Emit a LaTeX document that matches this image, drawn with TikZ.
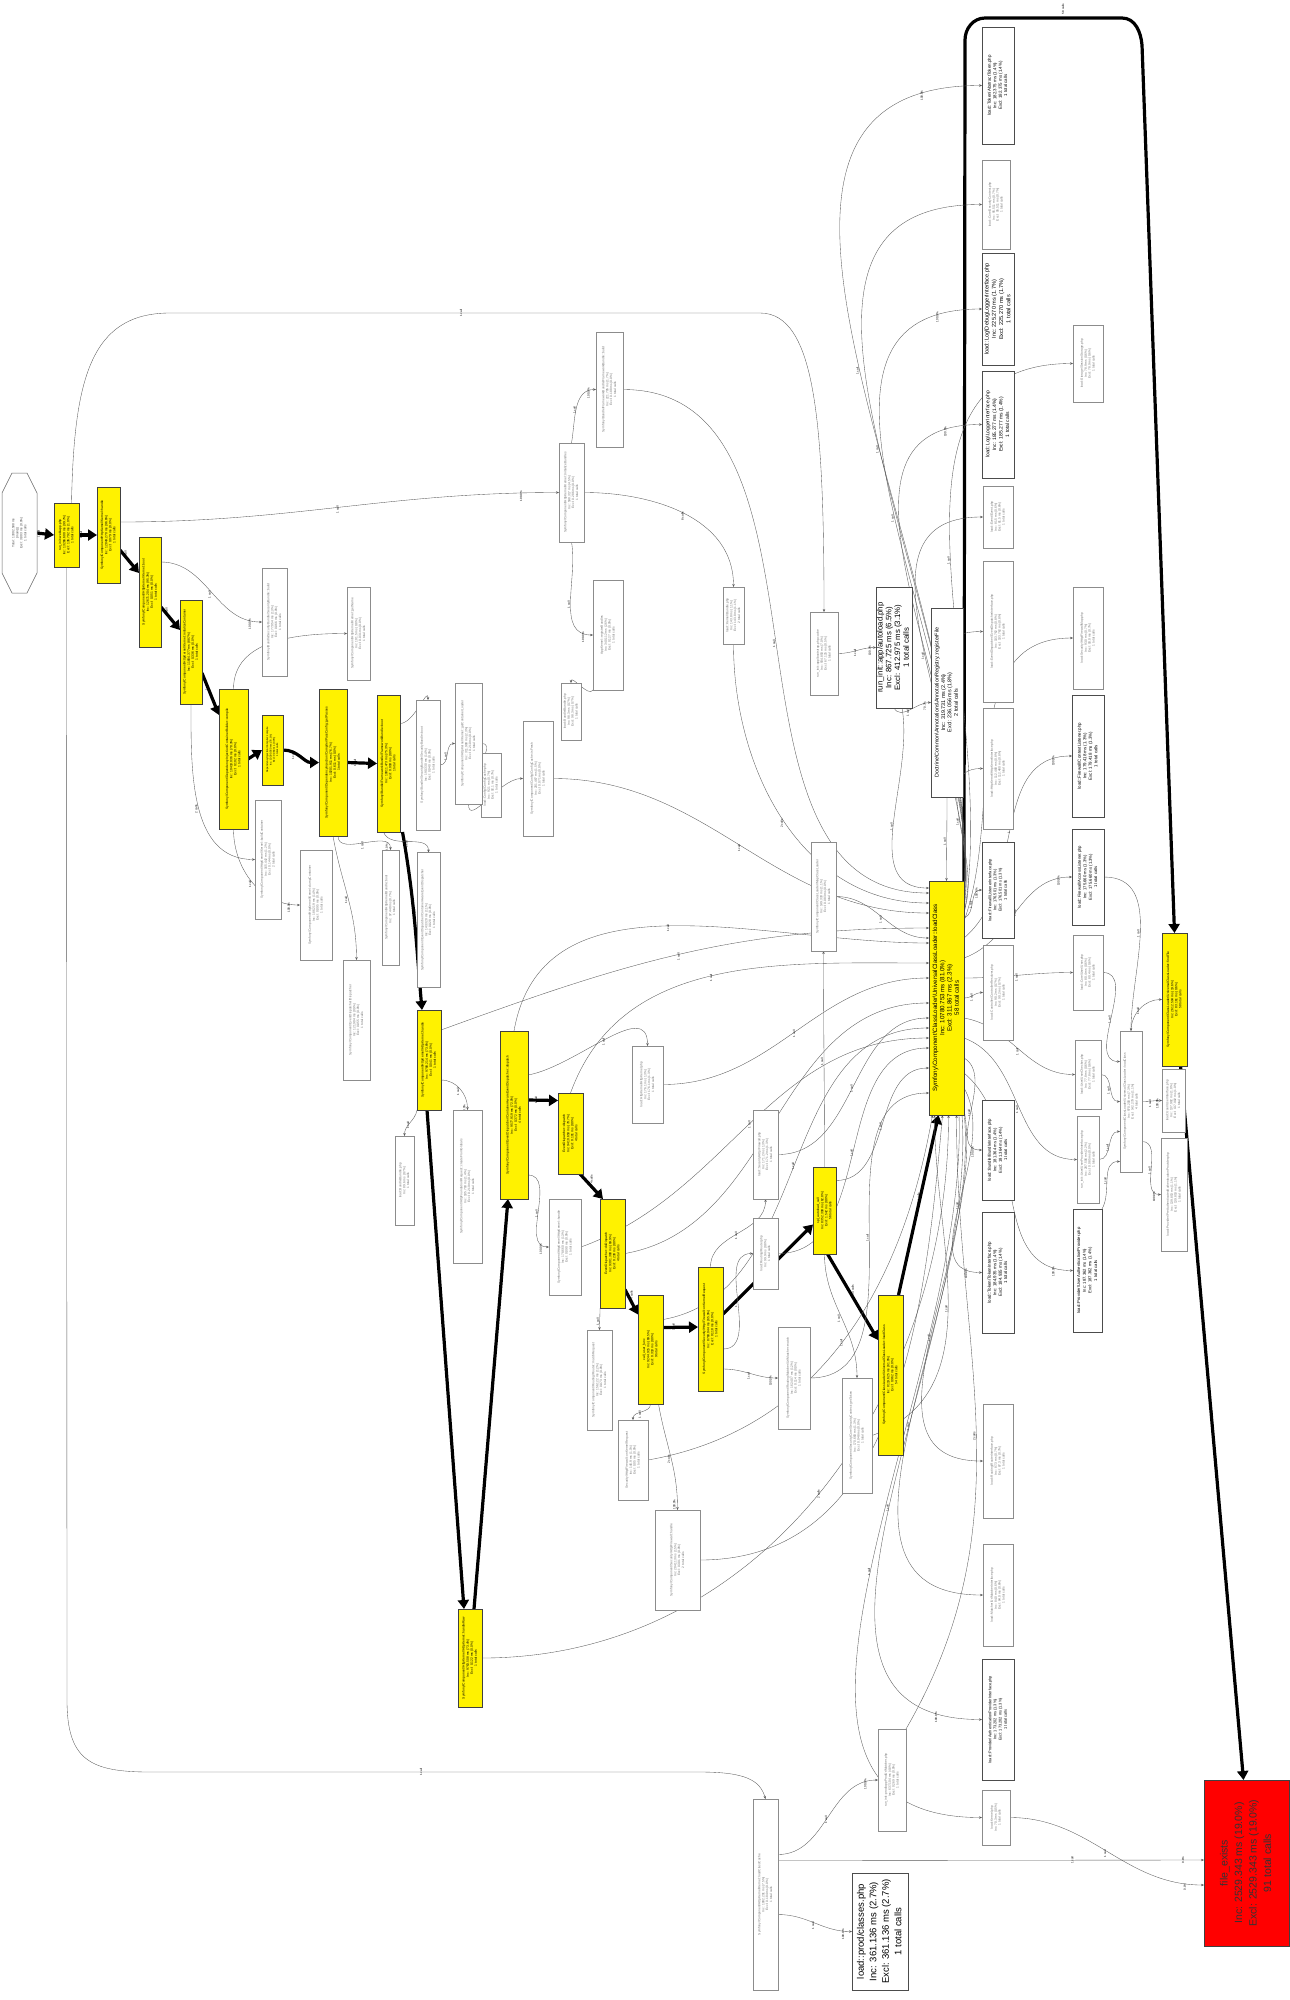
\documentclass[tikz,border=0pt]{standalone}
\usepackage{fontspec}
\setmainfont{Liberation Sans}
\usepackage{graphicx}
\usetikzlibrary{arrows.meta}
\pgfdeclarelayer{bg}
\pgfsetlayers{bg,main}
\newcommand{\rt}[1]{\rotatebox{90}{\begin{tabular}{@{}c@{}}#1\end{tabular}}}
\newcommand{\bsl}{\textbackslash}
\newcommand{\ed}[5]{\draw[te] (#1) to[out=#3,in=#4] node[lb,midway,xshift=-2.5pt,yshift=2pt]{#5} (#2);}
\newcommand{\edp}[6]{\draw[te] (#1) to[out=#3,in=#4] node[lb,midway,xshift=-2.5pt,yshift=2pt]{#5} node[lb,pos=0.93,xshift=-3pt,yshift=3pt]{#6} (#2);}
\tikzset{
  bx/.style={rectangle, inner sep=0pt, outer sep=0pt},
  yb/.style={bx, draw=black!75, fill=yellow, line width=0.6pt, font=\fontsize{3.3}{4.1}\selectfont},
  wb/.style={bx, draw=black!45, fill=white, line width=0.5pt, text=black!55, font=\fontsize{3.2}{3.9}\selectfont},
  wk/.style={bx, draw=black!70, fill=white, line width=0.6pt, text=black, font=\fontsize{4.6}{5.6}\selectfont},
  sz/.style 2 args={minimum width=#1pt, minimum height=#2pt},
  te/.style={draw=black!65, line width=0.35pt, -{Stealth[length=3pt,width=2.4pt]}},
  tk/.style={draw=black, line width=3.2pt, -{Triangle[length=9pt,width=11pt]}},
  lb/.style={font=\fontsize{3}{3.4}\selectfont, rotate=90, inner sep=0.3pt, text=black},
}
\begin{document}
\begin{tikzpicture}[x=1pt,y=-1pt]
\useasboundingbox (0,0) rectangle (1290,2000);
\begin{pgfonlayer}{bg}
\fill[white] (0,0) rectangle (1290,2000);
\end{pgfonlayer}

% ---------- start node ----------
\draw[black!60, line width=0.5pt, fill=white] (12,473) -- (27,473) -- (37,493) -- (37,573) -- (27,593) -- (12,593) -- (2,573) -- (2,493) -- cycle;
\node[bx, sz={35}{120}, text=black!70, font=\fontsize{3.2}{4}\selectfont] (S) at (19.5,533) {\rt{Total: 13302.508 ms\\\{main\}()\\Excl: 3.803 ms (0.0\%)\\1 total calls}};

% ---------- yellow chain ----------
\node[yb, sz={25}{64}] (Y1) at (66.5,535) {\rt{run\_init::web/app.php\\Inc: 13266.600 ms (99.7\%)\\Excl: 136.792 ms (1.0\%)\\1 total calls}};
\node[yb, sz={23}{96}] (Y2) at (108.5,535) {\rt{Symfony\bsl Component\bsl HttpKernel\bsl Kernel::handle\\Inc: 12849.270 ms (96.6\%)\\Excl: 0.079 ms (0.0\%)\\1 total calls}};
\node[yb, sz={22}{110}] (Y3) at (150,592) {\rt{Symfony\bsl Component\bsl HttpKernel\bsl Kernel::boot\\Inc: 12671.204 ms (95.3\%)\\Excl: 0.051 ms (0.0\%)\\1 total calls}};
\node[yb, sz={22}{104}] (Y4) at (191,652) {\rt{Symfony\bsl Component\bsl HttpKernel\bsl Kernel::initializeContainer\\Inc: 11804.377 ms (88.7\%)\\Excl: 0.336 ms (0.0\%)\\1 total calls}};
\node[yb, sz={29}{140}] (Y5) at (233.5,759) {\rt{Symfony\bsl Component\bsl DependencyInjection\bsl ContainerBuilder::compile\\Inc: 10418.036 ms (78.3\%)\\Excl: 0.102 ms (0.0\%)\\1 total calls}};
\node[yb, sz={21}{70}, font=\fontsize{2.6}{3.3}\selectfont] (Y5b) at (272.5,750) {\rt{DependencyInjection\bsl Compiler::compile\\Inc: 10390.560 ms (78.1\%)\\Excl: 0.084 ms (0.0\%)\\1 total calls}};
\node[yb, sz={28}{147}] (Y6) at (333,762.5) {\rt{Symfony\bsl Component\bsl DependencyInjection\bsl Compiler\bsl PassConfig::getPasses\\Inc: 10201.911 ms (76.7\%)\\Excl: 0.611 ms (0.0\%)\\1 total calls}};
\node[yb, sz={23}{137}] (Y7) at (388.5,763.5) {\rt{Symfony\bsl Bundle\bsl FrameworkBundle\bsl FrameworkBundle::boot\\Inc: 10011.473 ms (75.3\%)\\Excl: 0.093 ms (0.0\%)\\1 total calls}};
\node[yb, sz={24}{100}] (Y8) at (429,1060) {\rt{Symfony\bsl Component\bsl HttpKernel\bsl HttpKernel::handle\\Inc: 9788.214 ms (73.6\%)\\Excl: 0.041 ms (0.0\%)\\1 total calls}};
\node[yb, sz={24}{98}] (YB) at (470,1658) {\rt{Symfony\bsl Component\bsl HttpKernel\bsl HttpKernel::handleRaw\\Inc: 9763.508 ms (73.4\%)\\Excl: 0.122 ms (0.0\%)\\1 total calls}};
\node[yb, sz={28}{168}] (Y9) at (514,1115) {\rt{Symfony\bsl Component\bsl EventDispatcher\bsl ContainerAwareEventDispatcher::dispatch\\Inc: 9577.919 ms (72.0\%)\\Excl: 0.372 ms (0.0\%)\\4 total calls}};
\node[yb, sz={25}{81}] (Y10) at (570.5,1133.5) {\rt{EventDispatcher::dispatch\\Inc: 9410.650 ms (70.7\%)\\Excl: 0.101 ms (0.0\%)\\4 total calls}};
\node[yb, sz={25}{109}] (Y11) at (612.5,1253.5) {\rt{EventDispatcher::doDispatch\\Inc: 9301.388 ms (69.9\%)\\Excl: 0.230 ms (0.0\%)\\4 total calls}};
\node[yb, sz={25}{109}] (Y12) at (650.5,1349.5) {\rt{call\_user\_func\\Inc: 9244.915 ms (69.5\%)\\Excl: 0.318 ms (0.0\%)\\9 total calls}};
\node[yb, sz={25}{124}] (Y13) at (710.5,1329) {\rt{Symfony\bsl Component\bsl Security\bsl Http\bsl Firewall::onKernelRequest\\Inc: 8760.044 ms (65.9\%)\\Excl: 0.118 ms (0.0\%)\\1 total calls}};
\node[yb, sz={23}{87}] (Y14) at (824.5,1210.5) {\rt{spl\_autoload\_call\\Inc: 8352.390 ms (62.8\%)\\Excl: 1.542 ms (0.0\%)\\56 total calls}};
\node[yb, sz={25}{160}] (Y15) at (890.5,1375) {\rt{Symfony\bsl Component\bsl ClassLoader\bsl UniversalClassLoader::loadClass\\Inc: 8119.625 ms (61.0\%)\\Excl: 0.962 ms (0.0\%)\\54 total calls}};

% central node
\node[yb, sz={35}{234}, font=\fontsize{6.2}{7.3}\selectfont] (C) at (946.5,998) {\rt{Symfony\bsl Component\bsl ClassLoader\bsl UniversalClassLoader::loadClass\\Inc: 10780.753 ms (81.0\%)\\Excl: 311.867 ms (2.3\%)\\58 total calls}};
\node[yb, sz={25}{133}] (YR) at (1174.5,999.5) {\rt{Symfony\bsl Component\bsl ClassLoader\bsl UniversalClassLoader::findFile\\Inc: 2612.504 ms (19.6\%)\\Excl: 83.161 ms (0.6\%)\\58 total calls}};
\node[bx, draw=black!75, fill=red, line width=0.6pt, sz={85}{166}, text=black!80, font=\fontsize{10.5}{14.5}\selectfont] (Red) at (1246.5,1863) {\rt{file\_exists\\Inc: 2529.343 ms (19.0\%)\\Excl: 2529.343 ms (19.0\%)\\91 total calls}};

% ---------- large white nodes ----------
\node[wk, sz={36}{121}, font=\fontsize{7.8}{8.8}\selectfont] (A) at (894,647.5) {\rt{run\_init::app/autoload.php\\Inc: 867.725 ms (6.5\%)\\Excl: 412.975 ms (3.1\%)\\1 total calls}};
\node[wk, sz={32}{189}, font=\fontsize{5.4}{6.4}\selectfont] (D) at (947,702.5) {\rt{Doctrine\bsl Common\bsl Annotations\bsl AnnotationRegistry::registerFile\\Inc: 319.731 ms (2.4\%)\\Excl: 236.056 ms (1.8\%)\\2 total calls}};
\node[wk, sz={56}{117}, font=\fontsize{9.5}{12.5}\selectfont] (W30) at (880,1931.5) {\rt{load::prod/classes.php\\Inc: 361.136 ms (2.7\%)\\Excl: 361.136 ms (2.7\%)\\1 total calls}};

% ---------- small white nodes (left / middle) ----------
\node[wb, sz={25}{99}] (W1) at (571.5,492.5) {\rt{Symfony\bsl Component\bsl HttpKernel\bsl Kernel::initializeBundles\\Inc: 598.317 ms (4.5\%)\\Excl: 0.286 ms (0.0\%)\\1 total calls}};
\node[wb, sz={27}{115}] (W2) at (609.5,389.5) {\rt{Symfony\bsl Bundle\bsl FrameworkBundle\bsl FrameworkBundle::build\\Inc: 221.705 ms (1.7\%)\\Excl: 0.188 ms (0.0\%)\\1 total calls}};
\node[wb, sz={30}{110}] (W3) at (608,635) {\rt{AppKernel::registerBundles\\Inc: 340.112 ms (2.6\%)\\Excl: 0.127 ms (0.0\%)\\1 total calls}};
\node[wb, sz={21}{57}] (W4) at (733.5,615.5) {\rt{load::Kernel/Bundle.php\\Inc: 143.8 ms (1.1\%)\\Excl: 143.8 ms (1.1\%)\\2 total calls}};
\node[wb, sz={20}{57}] (W5) at (571,711.5) {\rt{load::Bundle/Bundle.php\\Inc: 98.3 ms (0.7\%)\\Excl: 98.3 ms (0.7\%)\\1 total calls}};
\node[wb, sz={30}{115}] (W6) at (538,778.5) {\rt{Symfony\bsl Component\bsl Config\bsl ConfigCache::isFresh\\Inc: 201.467 ms (1.5\%)\\Excl: 0.071 ms (0.0\%)\\1 total calls}};
\node[wb, sz={20}{64}] (W7) at (491,785) {\rt{load::Config/ConfigCache.php\\Inc: 92.1 ms (0.7\%)\\Excl: 92.1 ms (0.7\%)\\1 total calls}};
\node[wb, sz={24}{130}] (W7b) at (428,765) {\rt{Symfony\bsl Bundle\bsl SecurityBundle\bsl SecurityBundle::boot\\Inc: 190.330 ms (1.4\%)\\Excl: 0.040 ms (0.0\%)\\1 total calls}};
\node[wb, sz={27}{121}] (W8) at (468.5,743.5) {\rt{Symfony\bsl Component\bsl HttpKernel\bsl Kernel::getContainerLoader\\Inc: 311.908 ms (2.3\%)\\Excl: 0.210 ms (0.0\%)\\1 total calls}};
\node[wb, sz={23}{93}] (W9) at (358.5,633.5) {\rt{Symfony\bsl Component\bsl HttpKernel\bsl Kernel::getName\\Inc: 101.5 ms (0.8\%)\\Excl: 0.031 ms (0.0\%)\\1 total calls}};
\node[wb, sz={25}{108}] (W10) at (274.5,622) {\rt{Symfony\bsl Bundle\bsl SecurityBundle\bsl SecurityBundle::build\\Inc: 177.054 ms (1.3\%)\\Excl: 0.066 ms (0.0\%)\\1 total calls}};
\node[wb, sz={26}{119}] (W11) at (268,859.5) {\rt{Symfony\bsl Component\bsl HttpKernel\bsl Kernel::buildContainer\\Inc: 165.442 ms (1.2\%)\\Excl: 0.144 ms (0.0\%)\\2 total calls}};
\node[wb, sz={32}{110}] (W12) at (316,905) {\rt{Symfony\bsl Component\bsl HttpKernel\bsl Kernel::dumpContainer\\Inc: 186.219 ms (1.4\%)\\Excl: 0.095 ms (0.0\%)\\1 total calls}};
\node[wb, sz={17}{115}] (W13) at (390.5,907.5) {\rt{Symfony\bsl Component\bsl HttpKernel\bsl Bundle::boot\\Inc: 97.440 ms (0.7\%)\\1 total calls}};
\node[wb, sz={23}{135}] (W13b) at (428.5,920) {\rt{Symfony\bsl Component\bsl EventDispatcher\bsl ContainerAwareEventDispatcher\\Inc: 143.320 ms (1.1\%)\\Excl: 0.028 ms (0.0\%)\\1 total calls}};
\node[wb, sz={27}{120}] (W14) at (356.5,1020) {\rt{Symfony\bsl Component\bsl EventDispatcher\bsl Dispatcher\\Inc: 121.904 ms (0.9\%)\\Excl: 0.055 ms (0.0\%)\\1 total calls}};
\node[wb, sz={19}{89}] (W15) at (404.5,1180.5) {\rt{load::Bundle/Bundle.php\\Inc: 89.6 ms (0.7\%)\\1 total calls}};
\node[wb, sz={29}{153}] (W16) at (467.5,1186.5) {\rt{Symfony\bsl Component\bsl HttpFoundation\bsl Request::createFromGlobals\\Inc: 185.703 ms (1.4\%)\\Excl: 0.219 ms (0.0\%)\\1 total calls}};
\node[wb, sz={32}{96}] (W17) at (565,1247) {\rt{Symfony\bsl Component\bsl HttpKernel\bsl HttpKernel::handle\\Inc: 178.660 ms (1.3\%)\\Excl: 0.090 ms (0.0\%)\\1 total calls}};
\node[wb, sz={25}{100}] (W18) at (599.5,1380) {\rt{Symfony\bsl Component\bsl Routing\bsl Router::matchRequest\\Inc: 156.122 ms (1.2\%)\\Excl: 0.073 ms (0.0\%)\\1 total calls}};
\node[wb, sz={31}{77}] (W19) at (647.5,1084.5) {\rt{load::HttpKernel/HttpKernel.php\\Inc: 176.1 ms (1.3\%)\\Excl: 176.1 ms (1.3\%)\\1 total calls}};
\node[wb, sz={30}{80}] (W20) at (633,1460) {\rt{Security\bsl Http\bsl Firewall::onKernelRequest\\Inc: 146.9 ms (1.1\%)\\Excl: 0.05 ms (0.0\%)\\1 total calls}};
\node[wb, sz={45}{100}] (W21) at (677.5,1560) {\rt{Symfony\bsl Component\bsl Security\bsl Http\bsl Firewall::handle\\Inc: 204.113 ms (1.5\%)\\Excl: 0.301 ms (0.0\%)\\2 total calls}};
\node[wb, sz={25}{89}] (W22) at (765.5,1154.5) {\rt{load::Security/Http/Firewall.php\\Inc: 171.2 ms (1.3\%)\\Excl: 171.2 ms (1.3\%)\\1 total calls}};
\node[wb, sz={25}{71}] (W23) at (765.5,1253.5) {\rt{load::Routing/Router.php\\Inc: 99.9 ms (0.8\%)\\1 total calls}};
\node[wb, sz={32}{102}] (W24) at (794,1378) {\rt{Symfony\bsl Component\bsl Routing\bsl Matcher\bsl UrlMatcher::match\\Inc: 162.407 ms (1.2\%)\\Excl: 0.114 ms (0.0\%)\\1 total calls}};
\node[wb, sz={30}{115}] (W25) at (857,1435.5) {\rt{Symfony\bsl Component\bsl Security\bsl Core\bsl SecurityContext::getToken\\Inc: 170.660 ms (1.3\%)\\Excl: 0.048 ms (0.0\%)\\1 total calls}};
\node[wb, sz={25}{109}] (W26) at (823.5,896.5) {\rt{Symfony\bsl Component\bsl ClassLoader\bsl MapClassLoader\\Inc: 149.333 ms (1.1\%)\\Excl: 0.083 ms (0.0\%)\\1 total calls}};
\node[wb, sz={28}{83}] (W27) at (824,653.5) {\rt{run\_init::app/bootstrap.php.cache\\Inc: 934.850 ms (7.0\%)\\Excl: 67.125 ms (0.5\%)\\1 total calls}};
\node[wb, sz={25}{191}] (W28) at (765.5,1894.5) {\rt{Symfony\bsl Component\bsl HttpKernel\bsl Kernel::loadClassCache\\Inc: 1002.291 ms (7.5\%)\\Excl: 0.184 ms (0.0\%)\\1 total calls}};
\node[wb, sz={28}{102}] (W29) at (892,1780) {\rt{run\_init::prod/appProdUrlMatcher.php\\Inc: 637.104 ms (4.8\%)\\Excl: 0.269 ms (0.0\%)\\1 total calls}};

% ---------- right columns ----------
\node[wk, sz={32}{117}, font=\fontsize{4.4}{5.4}\selectfont] (R1) at (998,85.5) {\rt{load::Token/AbstractToken.php\\Inc: 182.375 ms (1.4\%)\\Excl: 182.375 ms (1.4\%)\\1 total calls}};
\node[wb, sz={28}{89}] (R2) at (996,204.5) {\rt{load::Core/SecurityContext.php\\Inc: 95.511 ms (0.7\%)\\Excl: 95.511 ms (0.7\%)\\1 total calls}};
\node[wk, sz={32}{112}, font=\fontsize{5.6}{7.2}\selectfont] (R3) at (998,309) {\rt{load::Log\bsl DebugLoggerInterface.php\\Inc: 225.270 ms (1.7\%)\\Excl: 225.270 ms (1.7\%)\\1 total calls}};
\node[wk, sz={32}{107}, font=\fontsize{5}{6.6}\selectfont] (R4) at (998,424.5) {\rt{load::Log\bsl LoggerInterface.php\\Inc: 185.277 ms (1.4\%)\\Excl: 185.277 ms (1.4\%)\\1 total calls}};
\node[wb, sz={30}{62}] (R5) at (998,517) {\rt{load::Event/Event.php\\Inc: 81.5 ms (0.6\%)\\Excl: 81.5 ms (0.6\%)\\1 total calls}};
\node[wb, sz={30}{141}] (R6) at (998,631.5) {\rt{load::EventDispatcher/EventDispatcherInterface.php\\Inc: 103.762 ms (0.8\%)\\Excl: 103.762 ms (0.8\%)\\1 total calls}};
\node[wb, sz={30}{121}] (R7) at (998,768.5) {\rt{load::HttpKernel/HttpKernelInterface.php\\Inc: 112.480 ms (0.8\%)\\Excl: 112.480 ms (0.8\%)\\1 total calls}};
\node[wk, sz={32}{96}, font=\fontsize{4}{5.2}\selectfont] (R8) at (998,890) {\rt{load::Firewall/ListenerInterface.php\\Inc: 176.501 ms (1.3\%)\\Excl: 176.501 ms (1.3\%)\\1 total calls}};
\node[wb, sz={30}{95}] (R9) at (998,992.5) {\rt{load::Controller/ControllerResolver.php\\Inc: 90.2 ms (0.7\%)\\Excl: 90.2 ms (0.7\%)\\1 total calls}};
\node[wk, sz={32}{100}, font=\fontsize{4.2}{5.4}\selectfont] (R10) at (998,1150) {\rt{load::Bundle/BundleInterface.php\\Inc: 181.364 ms (1.4\%)\\Excl: 181.364 ms (1.4\%)\\1 total calls}};
\node[wk, sz={32}{121}, font=\fontsize{4.4}{5.4}\selectfont] (R11) at (998,1272.5) {\rt{load::Token/TokenInterface.php\\Inc: 184.935 ms (1.4\%)\\Excl: 184.935 ms (1.4\%)\\1 total calls}};
\node[wb, sz={30}{114}] (R12) at (998,1461) {\rt{load::Routing/RouterInterface.php\\Inc: 87.3 ms (0.7\%)\\Excl: 87.3 ms (0.7\%)\\1 total calls}};
\node[wb, sz={30}{102}] (R13) at (998,1595) {\rt{load::Matcher/UrlMatcherInterface.php\\Inc: 84.0 ms (0.6\%)\\Excl: 84.0 ms (0.6\%)\\1 total calls}};
\node[wk, sz={32}{121}, font=\fontsize{3.9}{5.2}\selectfont] (R14) at (998,1719.5) {\rt{load::Provider/AuthenticationProviderInterface.php\\Inc: 173.202 ms (1.3\%)\\Excl: 173.202 ms (1.3\%)\\1 total calls}};
\node[wb, sz={28}{55}] (R15) at (996,1817.5) {\rt{load::Kernel.php\\Inc: 70.3 ms (0.5\%)\\1 total calls}};

\node[wb, sz={30}{77}] (Q1) at (1088,363.5) {\rt{load::Storage/SessionStorage.php\\Inc: 78.9 ms (0.6\%)\\Excl: 78.9 ms (0.6\%)\\1 total calls}};
\node[wb, sz={30}{102}] (Q2) at (1088,638) {\rt{load::Security/Http/FirewallMap.php\\Inc: 93.0 ms (0.7\%)\\Excl: 93.0 ms (0.7\%)\\1 total calls}};
\node[wk, sz={32}{122}, font=\fontsize{4.4}{5.5}\selectfont] (Q3) at (1088,756) {\rt{load::Firewall/ContextListener.php\\Inc: 179.418 ms (1.3\%)\\Excl: 179.418 ms (1.3\%)\\1 total calls}};
\node[wk, sz={32}{96}, font=\fontsize{4.2}{5.4}\selectfont] (Q4) at (1088,877) {\rt{load::Firewall/AccessListener.php\\Inc: 175.660 ms (1.3\%)\\Excl: 175.660 ms (1.3\%)\\1 total calls}};
\node[wb, sz={30}{75}] (Q5) at (1088,972.5) {\rt{load::Core/User/User.php\\Inc: 80.4 ms (0.6\%)\\Excl: 80.4 ms (0.6\%)\\1 total calls}};
\node[wb, sz={26}{69}] (Q6) at (1088,1074.5) {\rt{load::User/UserChecker.php\\Inc: 77.8 ms (0.6\%)\\Excl: 77.8 ms (0.6\%)\\1 total calls}};
\node[wb, sz={22}{87}] (Q7) at (1088,1159.5) {\rt{run\_init::User/UserProviderInterface.php\\Inc: 287.506 ms (2.2\%)\\Excl: 0.085 ms (0.0\%)\\1 total calls}};
\node[wk, sz={29}{123}, font=\fontsize{4.2}{5.6}\selectfont] (Q8) at (1087.5,1270.5) {\rt{load::Provider\bsl UserAuthenticationProvider.php\\Inc: 187.362 ms (1.4\%)\\Excl: 187.362 ms (1.4\%)\\1 total calls}};
\node[wb, sz={22}{141}] (T1) at (1131,1101.5) {\rt{Symfony\bsl Component\bsl ClassLoader\bsl UniversalClassLoader::loadClass\\Inc: 970.200 ms (7.3\%)\\Excl: 142.279 ms (1.1\%)\\4 total calls}};
\node[wb, sz={23}{63}] (U1) at (1173.5,1100.5) {\rt{load::User/UserInterface.php\\Inc: 137.902 ms (1.0\%)\\Excl: 137.902 ms (1.0\%)\\1 total calls}};
\node[wb, sz={26}{113}] (U2) at (1174,1194.5) {\rt{load::Provider\bsl PreAuthenticatedAuthenticationProvider.php\\Inc: 139.853 ms (1.1\%)\\Excl: 139.853 ms (1.1\%)\\1 total calls}};

% ================= edges =================
\begin{pgfonlayer}{bg}
% thick chain
\draw[tk] (S.east) -- node[lb,yshift=7pt]{1 call} (Y1.west);
\draw[tk] (Y1.east) -- node[lb,yshift=7pt]{1 call} (Y2.west);
\draw[tk] ([yshift=-15pt]Y2.east) -- node[lb,xshift=7pt,yshift=4pt]{1 call} ([yshift=19pt]Y3.west);
\draw[tk] ([yshift=-15pt]Y3.east) -- node[lb,xshift=7pt,yshift=4pt]{1 call} ([yshift=22pt]Y4.west);
\draw[tk] ([yshift=-21pt]Y4.east) -- node[lb,xshift=7pt,yshift=4pt]{1 call} ([yshift=44pt]Y5.west);
\draw[tk] (Y5.east) -- (Y5b.west);
\draw[tk] (Y5b.east) to[out=0,in=180] node[lb,yshift=8pt]{1 call} (Y6.west);
\draw[tk] (Y6.east) -- node[lb,yshift=7pt]{1 call} (Y7.west);
\draw[tk] ([xshift=14pt]Y7.south) to[out=-80,in=95] node[lb,xshift=7pt]{1 call} ([xshift=-7pt]Y8.north);
\draw[tk] ([xshift=-2pt]Y8.south) -- node[lb,xshift=-7pt]{1 call} ([xshift=-6pt]YB.north);
\draw[tk] ([xshift=4pt]YB.north) -- node[lb,xshift=7pt]{1 call} ([xshift=-6pt]Y9.south);
\draw[tk] ([yshift=15pt]Y9.east) -- node[lb,yshift=7pt]{1 call} ([yshift=33pt]Y10.west);
\draw[tk] ([xshift=-3pt]Y10.south east) -- node[lb,xshift=7pt]{4 calls} ([xshift=3pt]Y11.north west);
\draw[tk] ([yshift=-36pt]Y11.east) -- node[lb,xshift=7pt]{4 calls} ([yshift=35pt]Y12.west);
\draw[tk] ([yshift=22pt]Y12.east) -- node[lb,yshift=7pt]{1 call} ([yshift=2pt]Y13.west);
\draw[tk] ([yshift=15pt]Y13.east) -- node[lb,xshift=-6pt,yshift=6pt]{2 calls} ([yshift=-14pt]Y14.west);
\draw[tk] ([xshift=3pt]Y14.south) -- node[lb,xshift=7pt]{54 calls} ([yshift=35pt]Y15.west);
\draw[tk] ([xshift=8pt]Y15.north) -- node[lb,xshift=7pt]{54 calls} ([xshift=-8pt]C.south);
\draw[tk] (C.north east) -- (965,40) to[out=90,in=180] (985,18) -- (1122,18) to[out=0,in=95] (1142,45) -- (YR.north);
\node[lb] (L58) at (1063,9) {58 calls};
\draw[tk] ([xshift=6pt]YR.south) -- node[lb,xshift=7pt]{91 calls} ([xshift=-3pt]Red.north);

% long thin edges
\draw[te] ([xshift=5pt]Y1.north) .. controls (74,380) and (90,313) .. (170,313) -- node[lb,yshift=4pt]{1 call} (760,313) .. controls (815,313) and (824,420) .. (W27.north);
\draw[te] (Y1.south) -- (67,1700) .. controls (67,1760) and (90,1772) .. (150,1772) -- node[lb,yshift=4pt]{1 call} (700,1772) .. controls (745,1772) and (760,1780) .. (W28.north);
\edp{[yshift=13pt]Y2.east}{W1.west}{0}{180}{1 call}{100.0\%}
\edp{W1.north}{W2.west}{80}{180}{1 call}{100.0\%}
\edp{W1.south}{W3.west}{-80}{180}{1 call}{100.0\%}
\ed{W1.east}{W4.north}{0}{90}{8 calls}
\ed{W2.east}{[yshift=105pt]C.west}{0}{180}{1 call}
\ed{W3.south west}{W5.north}{-120}{90}{1 call}
\ed{W4.south}{[yshift=95pt]C.west}{-90}{180}{2 calls}
\edp{W27.east}{A.west}{0}{180}{1 call}{100.0\%}
\edp{A.south}{D.west}{-60}{180}{1 call}{70.7\%}
\ed{[xshift=8pt]A.south}{[yshift=110pt]C.west}{-80}{180}{1 call}
\ed{D.south}{C.north}{-90}{90}{1 call}
\edp{[yshift=30pt]Y3.east}{W10.west}{0}{180}{1 call}{100.0\%}
\ed{Y4.south}{W11.west}{-90}{180}{2 calls}
\edp{Y5.south}{W12.west}{-90}{180}{1 call}{100.0\%}
\ed{Y5.north}{W9.west}{90}{180}{1 call}
\edp{[xshift=5pt]Y6.south}{W13.north}{-90}{90}{1 call}{100.0\%}
\ed{Y6.south}{W14.north}{-80}{90}{1 call}
\ed{[yshift=40pt]Y7.east}{W7b.north}{0}{90}{1 call}
\ed{[xshift=-5pt]Y7.south}{W13b.north}{-70}{90}{1 call}
\ed{W7b.east}{W8.west}{0}{180}{1 call}
\edp{W8.east}{W7.west}{0}{180}{1 call}{100.0\%}
\ed{W6.east}{[yshift=85pt]C.west}{0}{180}{1 call}
\ed{W8.south}{W6.west}{-90}{180}{1 call}
\ed{Y8.south west}{W15.north}{-100}{90}{1 call}
\edp{[yshift=-20pt]Y8.east}{W16.north}{0}{90}{1 call}{100.0\%}
\ed{[yshift=30pt]Y8.east}{[yshift=70pt]C.west}{20}{180}{1 call}
\edp{[yshift=-60pt]Y9.east}{W17.west}{0}{180}{1 call}{100.0\%}
\ed{[yshift=40pt]Y9.east}{W19.north}{10}{90}{1 call}
\ed{Y9.north}{[yshift=55pt]C.west}{80}{180}{1 call}
\ed{Y10.north}{[yshift=35pt]C.west}{70}{180}{1 call}
\ed{W19.east}{[yshift=20pt]C.west}{0}{180}{1 call}
\ed{Y11.south west}{W18.north}{-90}{90}{1 call}
\ed{Y11.east}{[yshift=-5pt]C.west}{10}{180}{1 call}
\ed{Y12.south}{W20.north}{-90}{90}{1 call}
\edp{[xshift=8pt]Y12.south}{W21.north}{-80}{90}{2 calls}{100.0\%}
\ed{[yshift=30pt]Y12.east}{[yshift=-30pt]C.west}{10}{180}{1 call}
\ed{Y13.north}{W22.south}{90}{-90}{1 call}
\ed{[yshift=-20pt]Y13.east}{W23.west}{0}{180}{1 call}
\edp{[yshift=-40pt]Y13.east}{W24.west}{0}{180}{1 call}{100.0\%}
\ed{W22.east}{[yshift=-20pt]C.west}{0}{180}{1 call}
\ed{W23.east}{[yshift=-50pt]C.west}{0}{180}{1 call}
\ed{Y14.north}{W26.south}{90}{-90}{1 call}
\ed{[yshift=30pt]Y14.east}{[yshift=-70pt]C.west}{0}{180}{1 call}
\ed{W26.east}{[yshift=60pt]C.west}{0}{180}{1 call}
\ed{W24.east}{[yshift=-95pt]C.west}{0}{180}{1 call}
\ed{Y14.south}{W25.north}{-90}{90}{1 call}
\ed{W25.east}{[xshift=-12pt]C.south}{20}{-90}{1 call}
\ed{W21.east}{[xshift=-4pt]C.south}{0}{-95}{1 call}
\ed{W20.east}{[xshift=-14pt]C.south}{10}{-100}{1 call}
\ed{YB.east}{[xshift=2pt]C.south}{0}{-90}{2 calls}
\ed{W17.east}{[yshift=-40pt]C.west}{20}{180}{1 call}
\edp{[yshift=40pt]W28.east}{W29.west}{0}{180}{1 call}{100.0\%}
\edp{[yshift=-20pt]W28.east}{W30.west}{0}{180}{1 call}{100.0\%}
\draw[te] ([yshift=34pt]W28.east) -- node[lb,pos=0.7,yshift=4pt]{1 call} node[lb,pos=0.96,yshift=4pt]{0.1\%} ([yshift=3pt]Red.west);
\ed{W29.north east}{[xshift=10pt]C.south}{60}{-90}{2 calls}
\edp{R15.east}{[yshift=-22pt]Red.west}{0}{180}{1 call}{0.1\%}

% C to right column
\edp{[yshift=-6pt]C.north east}{R1.west}{88}{180}{1 call}{100.0\%}
\ed{[yshift=-10pt]C.north east}{R2.west}{86}{180}{1 call}
\edp{[yshift=-14pt]C.north east}{R3.west}{85}{180}{1 call}{100.0\%}
\edp{[yshift=-18pt]C.north east}{R4.west}{84}{180}{1 call}{100.0\%}
\ed{[yshift=-22pt]C.north east}{R5.west}{82}{180}{1 call}
\ed{[yshift=-26pt]C.north east}{R6.west}{80}{180}{1 call}
\ed{[yshift=-30pt]C.north east}{R7.west}{70}{180}{1 call}
\edp{[yshift=80pt]C.east}{R8.west}{20}{180}{1 call}{100.0\%}
\ed{[yshift=0pt]C.east}{R9.west}{0}{180}{1 call}
\edp{[yshift=-60pt]C.east}{R10.west}{-30}{180}{1 call}{100.0\%}
\edp{[yshift=-90pt]C.east}{R11.west}{-60}{180}{1 call}{100.0\%}
\ed{[yshift=6pt]C.south east}{R12.west}{-80}{180}{1 call}
\ed{[yshift=3pt]C.south east}{R13.west}{-84}{180}{1 call}
\edp{[xshift=-2pt]C.south east}{R14.west}{-86}{180}{1 call}{100.0\%}
\ed{[xshift=-5pt]C.south east}{R15.west}{-88}{180}{1 call}
\ed{[yshift=-34pt]C.north east}{Q1.west}{80}{180}{1 call}
\ed{[yshift=-40pt]C.north east}{Q2.west}{70}{180}{1 call}
\edp{[yshift=60pt]C.east}{Q3.west}{40}{180}{1 call}{100.0\%}
\edp{[yshift=40pt]C.east}{Q4.west}{20}{180}{1 call}{100.0\%}
\ed{[yshift=20pt]C.east}{Q5.west}{0}{180}{1 call}
\ed{[yshift=-20pt]C.east}{Q6.west}{-10}{180}{1 call}
\ed{[yshift=-40pt]C.east}{Q7.west}{-20}{180}{1 call}
\edp{[yshift=-75pt]C.east}{Q8.west}{-40}{180}{1 call}{100.0\%}
\ed{Q4.east}{T1.north}{0}{90}{1 call}
\ed{Q5.east}{[yshift=40pt]T1.west}{0}{180}{1 call}
\ed{Q6.east}{T1.west}{0}{180}{1 call}
\ed{Q7.east}{[yshift=-30pt]T1.west}{0}{180}{1 call}
\ed{Q8.north east}{[yshift=-60pt]T1.west}{60}{180}{1 call}
\edp{T1.east}{U1.west}{0}{180}{1 call}{100.0\%}
\edp{[yshift=-40pt]T1.east}{U2.west}{0}{180}{1 call}{100.0\%}
\ed{T1.north}{YR.west}{90}{180}{1 call}
\end{pgfonlayer}
\end{tikzpicture}
\end{document}
